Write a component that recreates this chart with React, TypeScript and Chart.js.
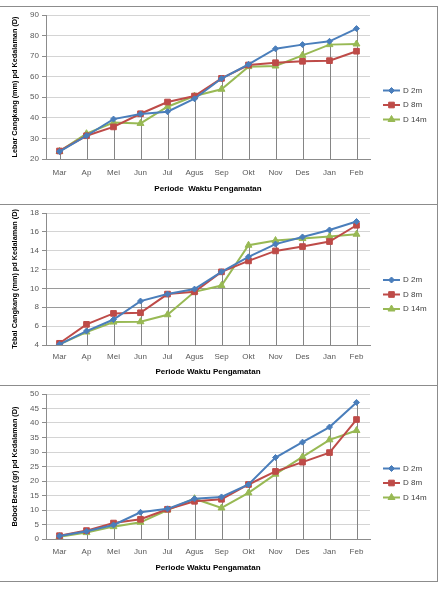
import React, { useEffect, useRef } from "react";
import { Chart, registerables } from "chart.js";
import { drawPoint } from "chart.js/helpers";

Chart.register(...registerables);

// ---------- data ----------
const months = ["Mar", "Ap", "Mei", "Jun", "Jul", "Agus", "Sep", "Okt", "Nov", "Des", "Jan", "Feb"];
const seriesNames = ["D 2m", "D 8m", "D 14m"];

const lebarD2 = [23.6, 31.3, 39.4, 41.9, 43.0, 49.3, 59.1, 66.0, 73.6, 75.6, 77.2, 83.4];
const lebarD8 = [23.9, 31.3, 35.6, 42.0, 47.7, 50.6, 59.2, 65.7, 66.8, 67.5, 67.8, 72.4];
const lebarD14 = [23.7, 32.3, 37.7, 37.3, 45.4, 50.6, 53.9, 64.9, 65.2, 70.4, 75.6, 75.9];

const tebalD2 = [4.07, 5.48, 6.7, 8.66, 9.4, 9.93, 11.76, 13.35, 14.7, 15.46, 16.2, 17.1];
const tebalD8 = [4.18, 6.19, 7.35, 7.42, 9.4, 9.64, 11.76, 12.92, 13.98, 14.44, 14.97, 16.7];
const tebalD14 = [4.07, 5.38, 6.43, 6.47, 7.21, 9.64, 10.31, 14.58, 15.08, 15.29, 15.5, 15.75];

const bobotD2 = [1.04, 2.65, 4.84, 9.2, 10.4, 13.9, 14.5, 18.8, 28.1, 33.4, 38.6, 47.1];
const bobotD8 = [1.15, 2.9, 5.5, 6.8, 10.25, 13.0, 13.7, 18.8, 23.3, 26.5, 29.8, 41.2];
const bobotD14 = [0.8, 2.2, 4.26, 5.76, 10.0, 13.9, 10.7, 15.9, 22.35, 28.3, 34.2, 37.4];

const lebarTicks = { min: 20, max: 90, step: 10 };
const tebalTicks = { min: 4, max: 18, step: 2 };
const bobotTicks = { min: 0, max: 50, step: 5 };

// ---------- styles ----------
const FONT = "'Liberation Sans', Arial, sans-serif";
const seriesStyles = [
  { color: "#4A7EBB", pointStyle: "rectRot", radius: 3 },
  { color: "#BE4B48", pointStyle: "rect", radius: 4 },
  { color: "#98B954", pointStyle: "triangle", radius: 4 },
];

const dropLinePlugin = {
  id: "dropLines",
  beforeDatasetsDraw(chart: any) {
    const xs = chart.scales.x;
    const ys = chart.scales.y;
    const ctx = chart.ctx;
    const n = chart.data.labels.length;
    ctx.save();
    ctx.strokeStyle = "#858585";
    ctx.lineWidth = 1;
    for (let i = 0; i < n; i++) {
      const top = Math.max(...chart.data.datasets.map((d: any) => d.data[i]));
      const px = Math.round(xs.getPixelForValue(i)) + 0.5;
      ctx.beginPath();
      ctx.moveTo(px, ys.getPixelForValue(top));
      ctx.lineTo(px, ys.bottom);
      ctx.stroke();
    }
    ctx.restore();
  },
};

const legendPlugin = {
  id: "excelLegend",
  afterDraw(chart: any) {
    const ctx = chart.ctx;
    const ds = chart.data.datasets;
    const n = ds.length;
    const gap = 14.5;
    const cy = chart.height / 2;
    ctx.save();
    ds.forEach((d: any, i: number) => {
      const y = cy + (i - (n - 1) / 2) * gap;
      const x0 = 383;
      const x1 = 400;
      ctx.strokeStyle = d.borderColor;
      ctx.lineWidth = 2;
      ctx.beginPath();
      ctx.moveTo(x0, y);
      ctx.lineTo(x1, y);
      ctx.stroke();
      ctx.fillStyle = d.backgroundColor;
      ctx.strokeStyle = d.borderColor;
      ctx.lineWidth = 1;
      drawPoint(ctx, { pointStyle: d.pointStyle, rotation: 0, borderWidth: 1, radius: d.pointRadius }, (x0 + x1) / 2, y);
      ctx.fillStyle = "#404040";
      ctx.font = `8px ${FONT}`;
      ctx.textBaseline = "middle";
      ctx.textAlign = "left";
      ctx.fillText(d.label, 403, y);
    });
    ctx.restore();
  },
};

type PanelProps = {
  top: number;
  height: number;
  series: number[][];
  ticks: { min: number; max: number; step: number };
  yTitle: string;
  xTitle: string;
  xAxisHeight: number;
  tickPad: number;
  titlePadBottom: number;
  darkGrid?: number[];
};

function Panel(p: PanelProps) {
  const ref = useRef<HTMLCanvasElement>(null);
  useEffect(() => {
    const chart = new Chart(ref.current as HTMLCanvasElement, {
      type: "line",
      data: {
        labels: months,
        datasets: p.series.map((vals, i) => ({
          label: seriesNames[i],
          data: vals,
          borderColor: seriesStyles[i].color,
          backgroundColor: seriesStyles[i].color,
          borderWidth: 2,
          pointStyle: seriesStyles[i].pointStyle as any,
          pointRadius: seriesStyles[i].radius,
          pointBorderWidth: 1,
          tension: 0,
        })),
      },
      options: {
        responsive: false,
        animation: false,
        devicePixelRatio: 1,
        layout: { padding: { top: 9, right: 67, left: 0, bottom: 0 } },
        plugins: { legend: { display: false }, tooltip: { enabled: false } },
        scales: {
          x: {
            type: "category",
            offset: true,
            grid: { display: false, drawTicks: false },
            border: { display: true, color: "#8c8c8c", width: 1 },
            ticks: { font: { family: FONT, size: 8 }, color: "#595959", padding: p.tickPad, maxRotation: 0, autoSkip: false },
            title: {
              display: true,
              text: p.xTitle,
              font: { family: FONT, size: 8, weight: "bold" },
              color: "#000000",
              padding: { top: 0, bottom: p.titlePadBottom },
            },
            afterFit: (s: any) => {
              s.height = p.xAxisHeight;
            },
          },
          y: {
            min: p.ticks.min,
            max: p.ticks.max,
            ticks: { stepSize: p.ticks.step, font: { family: FONT, size: 8 }, color: "#595959", padding: 3 },
            grid: {
              color: (c: any) => (p.darkGrid && p.darkGrid.includes(c.tick?.value) ? "#9a9a9a" : "#d4d4d4"),
              tickColor: "#8c8c8c",
              tickLength: 4,
            },
            border: { display: true, color: "#8c8c8c", width: 1 },
            title: {
              display: true,
              text: p.yTitle,
              font: { family: FONT, size: 7.3, weight: "bold" },
              color: "#000000",
              padding: { top: 11, bottom: 0 },
            },
            afterFit: (s: any) => {
              s.width = 46;
            },
          },
        },
      },
      plugins: [dropLinePlugin, legendPlugin],
    } as any);
    return () => chart.destroy();
  }, []);
  return (
    <canvas
      ref={ref}
      width={437}
      height={p.height}
      style={{ position: "absolute", left: 0, top: p.top, width: 437, height: p.height }}
    />
  );
}

function Frame({ top, height }: { top: number; height: number }) {
  return (
    <div
      style={{
        position: "absolute",
        left: -2,
        top,
        width: 440,
        height,
        border: "1px solid #8c8c8c",
        boxSizing: "border-box",
        pointerEvents: "none",
      }}
    />
  );
}

export default function App() {
  return (
    <div style={{ position: "absolute", left: 0, top: 0, width: 439, height: 595, background: "#fff", overflow: "hidden" }}>
      <Panel
        top={6}
        height={198}
        series={[lebarD2, lebarD8, lebarD14]}
        ticks={lebarTicks}
        yTitle="Lebar Cangkang (mm) pd Kedalaman (D)"
        xTitle="Periode  Waktu Pengamatan"
        xAxisHeight={45}
        tickPad={9}
        titlePadBottom={10}
      />
      <Panel
        top={204}
        height={181}
        series={[tebalD2, tebalD8, tebalD14]}
        ticks={tebalTicks}
        yTitle="Tebal Cangkang (mm) pd Kedalaman (D)"
        xTitle="Periode Waktu Pengamatan"
        xAxisHeight={40}
        tickPad={7}
        titlePadBottom={8}
        darkGrid={[8, 10]}
      />
      <Panel
        top={385}
        height={196}
        series={[bobotD2, bobotD8, bobotD14]}
        ticks={bobotTicks}
        yTitle="Bobot Berat (gr) pd Kedalaman (D)"
        xTitle="Periode Waktu Pengamatan"
        xAxisHeight={42}
        tickPad={8}
        titlePadBottom={8}
      />
      <Frame top={6} height={199} />
      <Frame top={204} height={182} />
      <Frame top={385} height={197} />
    </div>
  );
}
